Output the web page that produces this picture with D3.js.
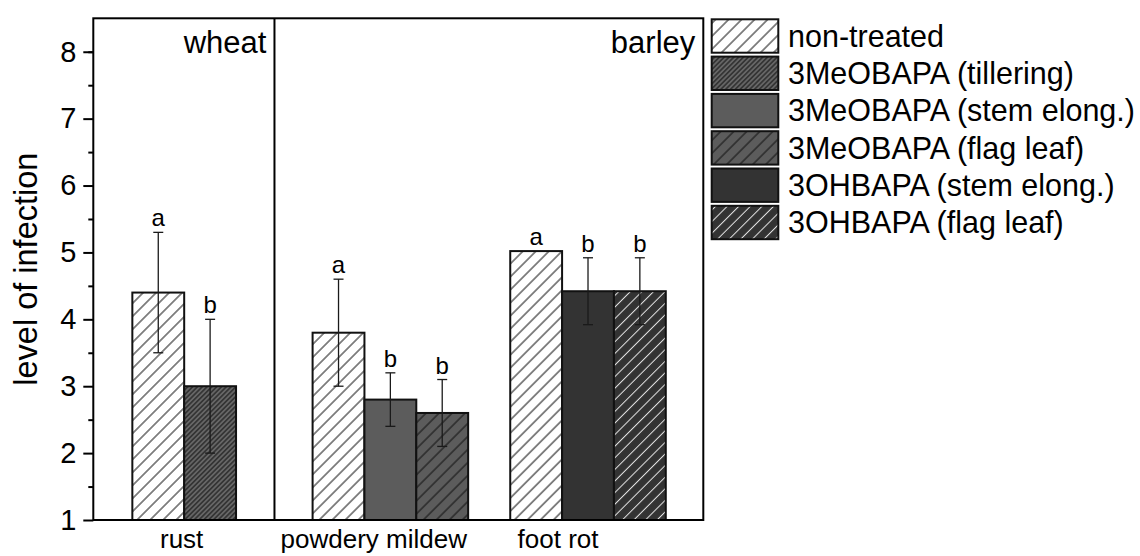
<!DOCTYPE html>
<html>
<head>
<meta charset="utf-8">
<script src="https://cdn.jsdelivr.net/npm/d3@7/dist/d3.min.js"></script>
<style>
  html, body { margin: 0; padding: 0; background: #fff; }
  svg { display: block; font-family: "Liberation Sans", Arial, sans-serif; }
</style>
</head>
<body>
<svg id="chart" width="1140" height="556"></svg>
<script>
// ---------------- data ----------------
const categories = ["rust", "powdery mildew", "foot rot"];
const categoryPos = [1.49, 4.87, 8.11];      // group centres on the x axis
const labelPos = [1.44, 4.59, 7.61];         // category tick-label positions
const panelDivider = 2.97;                   // wheat | barley boundary
const panels = ["wheat", "barley"];

const seriesNames = [
  "non-treated",
  "3MeOBAPA (tillering)",
  "3MeOBAPA (stem elong.)",
  "3MeOBAPA (flag leaf)",
  "3OHBAPA (stem elong.)",
  "3OHBAPA (flag leaf)"
];
// which series appear in each category
const seriesInCategory = [[0, 1], [0, 2, 3], [0, 4, 5]];
const means  = [[4.4, 3.0], [3.8, 2.8, 2.6], [5.02, 4.42, 4.42]];
const errors = [[0.9, 1.0], [0.8, 0.4, 0.5], [0, 0.5, 0.5]];
const letters = [["a", "b"], ["a", "b", "b"], ["a", "b", "b"]];

const yTicks = [1, 2, 3, 4, 5, 6, 7, 8];
const yMinorTicks = [1.5, 2.5, 3.5, 4.5, 5.5, 6.5, 7.5, 8.0];

// ---------------- styles ----------------
const seriesStyle = [
  { bg: "#ffffff", line: "#111111", gap: 9.2, lw: 1 },
  { bg: "#666666", line: "#111111", gap: 3.4, lw: 1 },
  { bg: "#5c5c5c", line: null },
  { bg: "#5c5c5c", line: "#111111", gap: 9.2, lw: 1 },
  { bg: "#333333", line: null },
  { bg: "#333333", line: "#e6e6e6", gap: 8.2, lw: 1 }
];

const svg = d3.select("#chart");
const L = 93.3, R = 703.3, T = 18.3, B = 520;

const x = d3.scaleLinear().domain([0, 10]).range([L, R]);
const y = d3.scaleLinear().domain([1, 8.5]).range([B, T]);
const barW = x(0.85) - x(0);

// patterns
const defs = svg.append("defs");
seriesStyle.forEach((s, i) => {
  if (!s.line) return;
  const p = defs.append("pattern")
    .attr("id", "pat" + i)
    .attr("patternUnits", "userSpaceOnUse")
    .attr("width", s.gap).attr("height", s.gap)
    .attr("patternTransform", "rotate(45)");
  p.append("rect").attr("width", s.gap).attr("height", s.gap).attr("fill", s.bg);
  p.append("line").attr("x1", s.gap / 2).attr("x2", s.gap / 2)
    .attr("y1", 0).attr("y2", s.gap)
    .attr("stroke", s.line).attr("stroke-width", s.lw);
});
const fillOf = i => seriesStyle[i].line ? `url(#pat${i})` : seriesStyle[i].bg;

// flatten bar records
const bars = [];
categories.forEach((c, ci) => {
  const n = seriesInCategory[ci].length;
  seriesInCategory[ci].forEach((si, k) => {
    const x0 = x(categoryPos[ci]) + (k - n / 2) * barW;
    bars.push({ ci, si, k, x0, v: means[ci][k], e: errors[ci][k], lab: letters[ci][k] });
  });
});

// bars
svg.append("g").selectAll("rect").data(bars).join("rect")
  .attr("x", d => d.x0)
  .attr("y", d => y(d.v))
  .attr("width", barW)
  .attr("height", d => y(1) - y(d.v))
  .attr("fill", d => fillOf(d.si))
  .attr("stroke", "#111")
  .attr("stroke-width", 2);

// error bars
const eg = svg.append("g").attr("stroke", "#1a1a1a").attr("stroke-width", 1.3);
bars.filter(d => d.e > 0).forEach(d => {
  const cx = d.x0 + barW / 2;
  eg.append("line").attr("x1", cx).attr("x2", cx).attr("y1", y(d.v - d.e)).attr("y2", y(d.v + d.e));
  [d.v - d.e, d.v + d.e].forEach(v => {
    eg.append("line").attr("x1", cx - 5).attr("x2", cx + 5).attr("y1", y(v)).attr("y2", y(v));
  });
});

// significance letters
svg.append("g").selectAll("text").data(bars).join("text")
  .attr("x", d => d.x0 + barW / 2)
  .attr("y", d => y(d.v + d.e) - 6)
  .attr("text-anchor", "middle")
  .attr("font-size", 24)
  .attr("fill", "#000")
  .text(d => d.lab);

// frame + divider
svg.append("rect").attr("x", L).attr("y", T).attr("width", R - L).attr("height", B - T)
  .attr("fill", "none").attr("stroke", "#000").attr("stroke-width", 2);
svg.append("line").attr("x1", x(panelDivider)).attr("x2", x(panelDivider))
  .attr("y1", T).attr("y2", B).attr("stroke", "#000").attr("stroke-width", 2);

// panel titles
svg.append("text").attr("x", x(panelDivider) - 8).attr("y", 53).attr("text-anchor", "end")
  .attr("font-size", 31).text(panels[0]);
svg.append("text").attr("x", R - 8).attr("y", 53).attr("text-anchor", "end")
  .attr("font-size", 31).text(panels[1]);

// y axis
const yAxis = svg.append("g").attr("transform", `translate(${L},0)`)
  .call(d3.axisLeft(y).tickValues(yTicks).tickSize(10).tickPadding(7).tickFormat(d3.format("d")));
yAxis.select(".domain").remove();
yAxis.selectAll(".tick line").attr("stroke", "#000").attr("stroke-width", 2);
yAxis.selectAll(".tick text").attr("font-size", 29).attr("fill", "#000")
  .attr("font-family", "Liberation Sans, Arial, sans-serif");

const yMinor = svg.append("g").attr("transform", `translate(${L},0)`)
  .call(d3.axisLeft(y).tickValues(yMinorTicks).tickSize(5).tickFormat(""));
yMinor.select(".domain").remove();
yMinor.selectAll(".tick line").attr("stroke", "#000").attr("stroke-width", 2);

// x axis labels
const xAxis = svg.append("g").attr("transform", `translate(0,${B})`)
  .call(d3.axisBottom(x).tickValues(labelPos).tickSize(0).tickPadding(10)
    .tickFormat((d, i) => categories[i]));
xAxis.select(".domain").remove();
xAxis.selectAll(".tick text").attr("font-size", 26).attr("fill", "#000")
  .attr("font-family", "Liberation Sans, Arial, sans-serif")
  .attr("dy", "0.71em");

// y title
svg.append("text")
  .attr("transform", `translate(37,${(T + B) / 2}) rotate(-90)`)
  .attr("text-anchor", "middle")
  .attr("font-size", 32.5)
  .text("level of infection");

// legend
const lg = svg.append("g");
seriesNames.forEach((name, i) => {
  const ry = 19.3 + i * 37.3;
  lg.append("rect").attr("x", 711.7).attr("y", ry).attr("width", 66.6).attr("height", 33.4)
    .attr("fill", fillOf(i)).attr("stroke", "#111").attr("stroke-width", 2);
  lg.append("text").attr("x", 788).attr("y", ry + 27.5).attr("font-size", 30.5).text(name);
});
</script>
</body>
</html>
